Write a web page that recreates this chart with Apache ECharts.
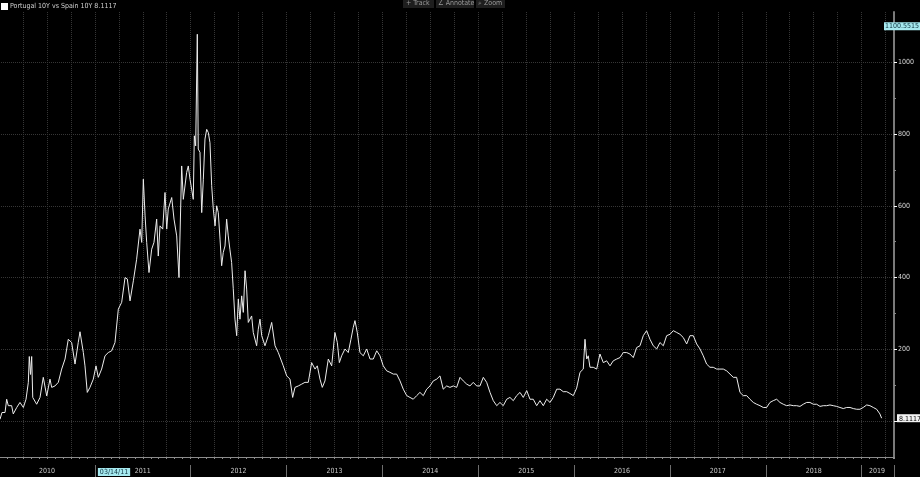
<!DOCTYPE html>
<html><head><meta charset="utf-8">
<script src="https://cdn.jsdelivr.net/npm/echarts@6/dist/echarts.min.js"></script>
<style>html,body{margin:0;padding:0;background:#000;}#c{width:920px;height:477px;}</style>
</head><body><div id="c"></div>
<script>
const seriesName = 'Portugal 10Y vs Spain 10Y';
// dates as decimal years
const dates = [
2010.010,2010.031,2010.063,2010.080,2010.097,2010.132,2010.149,2010.167,2010.185,2010.219,2010.254,2010.282,2010.306,2010.316,2010.329,2010.341,2010.352,2010.393,2010.428,2010.462,2010.498,2010.532,2010.550,2010.584,2010.619,2010.654,2010.689,2010.723,2010.758,2010.793,2010.827,2010.845,2010.880,2010.897,2010.921,2010.949,2010.984,
2011.012,2011.036,2011.071,2011.106,2011.140,2011.176,2011.210,2011.245,2011.280,2011.315,2011.339,2011.367,2011.402,2011.436,2011.471,2011.489,2011.506,2011.524,2011.541,2011.565,2011.593,2011.617,2011.645,2011.662,2011.680,2011.708,2011.732,2011.750,2011.766,2011.802,2011.826,2011.854,2011.878,2011.906,2011.923,2011.958,2011.975,2011.993,
2012.027,2012.038,2012.052,2012.069,2012.079,2012.097,2012.115,2012.132,2012.149,2012.167,2012.184,2012.201,2012.219,2012.236,2012.254,2012.271,2012.288,2012.306,2012.323,2012.340,2012.358,2012.375,2012.392,2012.409,2012.427,2012.444,2012.462,2012.480,2012.497,2012.514,2012.532,2012.549,2012.567,2012.584,2012.601,2012.636,2012.653,2012.688,2012.705,2012.723,2012.741,2012.775,2012.810,2012.845,2012.880,2012.914,2012.932,2012.966,
2013.002,2013.036,2013.064,2013.088,2013.123,2013.158,2013.192,2013.227,2013.262,2013.297,2013.321,2013.349,2013.373,2013.401,2013.436,2013.471,2013.505,2013.530,2013.551,2013.575,2013.610,2013.644,2013.672,2013.696,2013.714,2013.738,2013.766,2013.801,2013.836,2013.871,2013.905,2013.941,2013.975,
2014.009,2014.045,2014.079,2014.114,2014.149,2014.184,2014.218,2014.254,2014.288,2014.322,2014.358,2014.392,2014.427,2014.462,2014.497,2014.531,2014.567,2014.601,2014.635,2014.671,2014.705,2014.740,2014.775,2014.810,2014.844,2014.880,2014.914,2014.948,2014.984,
2015.018,2015.053,2015.088,2015.123,2015.157,2015.193,2015.227,2015.261,2015.297,2015.331,2015.366,2015.401,2015.436,2015.470,2015.506,2015.540,2015.574,2015.610,2015.644,2015.679,2015.714,2015.749,2015.783,2015.819,2015.853,2015.887,2015.923,2015.957,2015.992,
2016.027,2016.062,2016.096,2016.114,2016.132,2016.148,2016.166,2016.200,2016.236,2016.270,2016.305,2016.340,2016.375,2016.409,2016.445,2016.479,2016.513,2016.549,2016.583,2016.618,2016.653,2016.688,2016.722,2016.757,2016.792,2016.826,2016.862,2016.896,2016.931,2016.966,
2017.001,2017.035,2017.071,2017.105,2017.139,2017.175,2017.209,2017.244,2017.279,2017.314,2017.348,2017.383,2017.418,2017.452,2017.488,2017.522,2017.557,2017.592,2017.627,2017.661,2017.696,2017.731,2017.765,2017.801,2017.835,2017.870,2017.905,2017.940,2017.974,
2018.009,2018.044,2018.078,2018.114,2018.148,2018.183,2018.218,2018.253,2018.287,2018.322,2018.357,2018.391,2018.427,2018.461,2018.496,2018.531,2018.566,2018.600,2018.635,2018.670,2018.704,2018.740,2018.774,2018.809,2018.844,2018.879,2018.913,2018.949,2018.983,
2019.017,2019.053,2019.087,2019.122,2019.157,2019.191,2019.209
];
const values = [
5,24,24,61,43,43,20,20,38,52,38,61,108,180,130,180,66,47,66,122,70,117,94,98,108,145,173,228,219,159,219,249,191,154,80,94,117,
154,122,145,182,191,196,219,312,331,400,396,335,391,451,535,498,674,572,498,414,479,498,563,460,544,535,637,535,591,623,563,516,400,711,618,693,711,674,
618,795,767,1078,758,749,581,674,786,813,804,776,656,591,544,600,581,507,433,470,488,563,516,479,442,370,284,238,340,284,349,303,419,368,275,293,247,210,256,284,238,210,238,275,210,191,191,154,
126,117,66,94,98,103,108,108,163,145,154,117,94,112,173,154,247,219,163,182,201,191,228,261,280,247,191,182,201,173,173,196,182,
154,140,136,131,131,112,89,71,66,61,71,80,71,89,98,112,117,126,89,98,94,98,94,122,112,103,98,108,98,
98,122,108,80,57,43,52,43,61,66,57,71,80,66,85,61,61,43,57,43,61,52,66,89,89,82,82,77,71,
92,136,145,228,173,182,150,150,145,187,163,168,154,168,173,177,191,191,187,177,205,210,238,252,228,210,201,219,210,238,
242,252,247,242,233,215,238,238,215,201,182,159,150,150,145,145,145,140,131,122,122,80,71,71,61,52,47,43,38,
38,52,57,61,52,47,43,45,43,43,41,47,52,52,47,47,41,43,43,45,43,41,38,35,38,38,35,33,33,
38,45,43,38,33,20,8.1117
];
const yearLabels = [2010,2011,2012,2013,2014,2015,2016,2017,2018,2019];
const yearLabelPos = [2010.5,2011.5,2012.5,2013.5,2014.5,2015.5,2016.5,2017.5,2018.5,2019.16];
const yTickLabels = [200,400,600,800,1000];
const yGridValues = [0,200,400,600,800,1000];
const yMinorTicks = [100,300,500,700,900,1100];
const lastValue = 8.1117;
const cursorValue = 1100.5515;
const cursorDate = 2011.2;
const cursorDateLabel = '03/14/11';

const FONT = '"Liberation Sans Narrow","DejaVu Sans Condensed","Liberation Sans",sans-serif';
const chart = echarts.init(document.getElementById('c'));
const option = {
  backgroundColor: '#000',
  animation: false,
  textStyle: { fontFamily: FONT },
  grid: { left: -1, right: 26, top: 12, bottom: 20, containLabel: false, outerBoundsMode: 'none' },
  legend: {
    left: 1, top: 3, icon: 'rect', itemWidth: 7, itemHeight: 7, padding: 0,
    textStyle: { color: '#d0d0d0', fontSize: 7, fontFamily: FONT, padding: [0, 0, 0, -3] },
    formatter: n => n + ' ' + lastValue.toFixed(4),
    data: [{ name: seriesName, itemStyle: { color: '#ffffff' } }]
  },
  xAxis: [
    { type: 'value', min: 2010, max: 2019.338, interval: 0.25, position: 'bottom',
      axisLine: { show: true, onZero: false, lineStyle: { color: '#8c8c8c', width: 1 } },
      axisTick: { show: true, length: 2, lineStyle: { color: '#8c8c8c' } },
      minorTick: { show: true, splitNumber: 3, length: 2, lineStyle: { color: '#8c8c8c' } },
      axisLabel: { show: false },
      splitLine: { show: true, lineStyle: { color: '#363636', type: 'dotted', width: 1 } } },
    { type: 'value', min: 2010, max: 2019.338, interval: 1, position: 'bottom', offset: 8,
      axisLine: { show: false, onZero: false },
      axisTick: { show: true, length: 12, lineStyle: { color: '#6e6e6e' } },
      axisLabel: { show: true, customValues: yearLabelPos.concat([cursorDate]), color: '#c8c8c8', fontSize: 7, margin: 3, fontFamily: FONT,
        formatter: v => v === cursorDate ? '{cur|' + cursorDateLabel + '}' : String(yearLabels[yearLabelPos.indexOf(v)]),
        rich: { cur: { backgroundColor: '#a6e9ef', color: '#0e3440', fontSize: 7, fontFamily: FONT, padding: [1, 2, 0, 2] } } },
      splitLine: { show: false } }
  ],
  yAxis: [
    { type: 'value', position: 'right', min: -100, max: 1140,
      axisLine: { show: true, onZero: false, lineStyle: { color: '#7a7a7a', width: 2 } },
      axisTick: { show: true, length: 3, customValues: yGridValues, lineStyle: { color: '#ffffff' } },
      axisLabel: { customValues: yTickLabels, color: '#d8d8d8', fontSize: 7, margin: 4, fontFamily: FONT, formatter: v => String(v) },
      splitLine: { show: true, lineStyle: { color: '#363636', type: 'dotted', width: 1 } } },
    { type: 'value', position: 'right', min: -100, max: 1140,
      axisLine: { show: false, onZero: false },
      axisTick: { show: true, length: 2, customValues: yMinorTicks, lineStyle: { color: '#8a8a8a' } },
      axisLabel: { customValues: [lastValue], margin: 3, fontSize: 7, fontFamily: FONT,
        formatter: v => '{last|' + v.toFixed(4) + '}',
        rich: { last: { backgroundColor: '#f2f2f2', color: '#000', fontSize: 7, fontFamily: FONT, padding: [1, 2, 0, 2] } } },
      splitLine: { show: false } },
    { type: 'value', position: 'right', min: -100, max: 1140,
      axisLine: { show: false, onZero: false }, axisTick: { show: false },
      axisLabel: { customValues: [cursorValue], margin: -10, fontSize: 7, fontFamily: FONT,
        formatter: v => '{cur|' + v.toFixed(4) + '}',
        rich: { cur: { backgroundColor: '#a6e9ef', color: '#0e3440', fontSize: 7, fontFamily: FONT, padding: [1, 1, 0, 1] } } },
      splitLine: { show: false } }
  ],
  series: [{
    name: seriesName, type: 'line', xAxisIndex: 0, yAxisIndex: 0,
    data: dates.map((d, i) => [d, values[i]]),
    showSymbol: false, symbol: 'none', silent: true,
    lineStyle: { color: '#ececec', width: 1 }, itemStyle: { color: '#ffffff' }
  }],
  graphic: [
    { type: 'rect', left: 403, top: 0, shape: { width: 31, height: 8 }, style: { fill: '#1e1e1e' } },
    { type: 'rect', left: 436, top: 0, shape: { width: 38, height: 8 }, style: { fill: '#1e1e1e' } },
    { type: 'rect', left: 476, top: 0, shape: { width: 29, height: 8 }, style: { fill: '#1e1e1e' } },
    { type: 'text', left: 406, top: 0, style: { text: '+ Track', fill: '#9a9a9a', font: '7px ' + FONT } },
    { type: 'text', left: 438, top: 0, style: { text: '\u2220 Annotate', fill: '#9a9a9a', font: '7px ' + FONT } },
    { type: 'text', left: 478, top: 0, style: { text: '\u2315 Zoom', fill: '#9a9a9a', font: '7px ' + FONT } }
  ]
};
chart.setOption(option);
</script>
</body></html>
